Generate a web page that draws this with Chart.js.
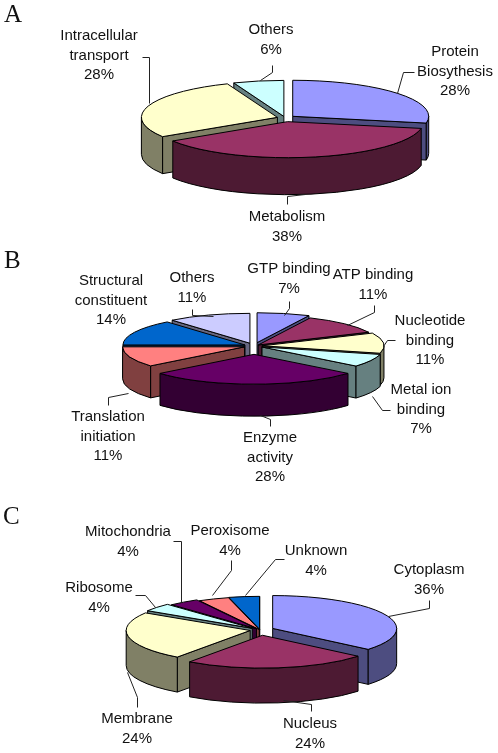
<!DOCTYPE html>
<html><head><meta charset="utf-8">
<script src="https://cdn.jsdelivr.net/npm/chart.js@4"></script>
<style>html,body{margin:0;padding:0;background:#fff;width:498px;height:753px;overflow:hidden}canvas{position:absolute;left:0;display:block}</style>
</head><body>
<canvas id="a" width="498" height="250" style="top:0"></canvas>
<canvas id="b" width="498" height="250" style="top:250px"></canvas>
<canvas id="c" width="498" height="253" style="top:500px"></canvas>
<script>
// ---- data ----
const categoriesA = ['Protein\nBiosythesis','Metabolism','Intracellular\ntransport','Others'];
const valuesA = [28,38,28,6];
const colorsA = ['#9999FF','#993366','#FFFFCC','#CCFFFF'];

const categoriesB = ['GTP binding','ATP binding','Nucleotide\nbinding','Metal ion\nbinding','Enzyme\nactivity','Translation\ninitiation','Structural\nconstituent','Others'];
const valuesB = [7,11,11,7,28,11,14,11];
const colorsB = ['#9999FF','#993366','#FFFFCC','#CCFFFF','#660066','#FF8080','#0066CC','#CCCCFF'];

const categoriesC = ['Cytoplasm','Nucleus','Membrane','Ribosome','Mitochondria','Peroxisome','Unknown'];
const valuesC = [36,24,24,4,4,4,4];
const colorsC = ['#9999FF','#993366','#FFFFCC','#CCFFFF','#660066','#FF8080','#0066CC'];

// ---- layout (not data) ----
const explodeA = [10,14,8,6];
const explodeB = [14,6,8,9,34,10,10,12];
const explodeC = [14,20,10,10,6,2,3];
const labelPosA = [[455,52],[287,217],[99,36],[271,30]];
const labelPosB = [[289,19],[373,25],[430,71],[421,140],[270,188],[108,167],[111,31],[192,28]];
const labelPosC = [[429,70],[310,224],[137,219],[99,88],[128,32],[230,31],[316,51]];
const leadersA = [[[414,72],[403,72],[397,93]],[[287,204],[287,196],[305,194]],[[142,57],[149,57],[149,103]],[[272,65],[272,72],[260,80]]];
const leadersB = [[[289,51],[289,58],[284,65]],[[374,55],[374,62],[347,75]],[[395,90],[387,90],[383,96]],[[390,160],[382,160],[372,146]],[[270,176],[270,169],[260,165]],[[108,155],[108,147],[128,143]],null,[[192,59],[192,65],[213,66]]];
const leadersC = [[[429,100],[429,108],[388,116]],[[311,211],[311,204],[283,200]],[[137,207],[137,197],[127,172]],[[135,95],[145,95],[155,107]],[[173,41],[181,41],[181,102]],[[231,60],[231,70],[212,95]],[[284,59],[275,59],[245,95]]];

const LABEL_FONT = '15px "Liberation Sans", Arial, sans-serif';
const LINE_H = 19.5;

function halfTone(hex){
  const n = parseInt(hex.slice(1),16);
  return 'rgb('+[(n>>16)&255,(n>>8)&255,n&255].map(v=>Math.round(v/2)).join(',')+')';
}

const pie3d = {
  id:'pie3d',
  beforeDatasetDraw(){ return false; },
  afterDatasetsDraw(chart,args,o){
    const ctx = chart.ctx, area = chart.chartArea;
    const meta = chart.getDatasetMeta(0);
    const arcs = meta.data.map((arc,i)=>({arc,i})).sort((p,q)=>{
      const m=e=>Math.sin((e.arc.startAngle+e.arc.endAngle)/2);
      return m(p)-m(q);
    });
    const k=o.squash, d=o.depth;
    for(const {arc,i} of arcs){
      const off=o.explode[i], mid=(arc.startAngle+arc.endAngle)/2;
      const dx=Math.cos(mid)*off, dy=Math.sin(mid)*off*k;
      const x=arc.x+dx, y=arc.y+dy, r=arc.outerRadius;
      const a0=arc.startAngle, a1=arc.endAngle;
      const px=a=>x+Math.cos(a)*r, py=a=>y+Math.sin(a)*r*k;
      ctx.save();
      ctx.lineWidth=1; ctx.strokeStyle='#000'; ctx.lineJoin='round';
      ctx.fillStyle=halfTone(o.colors[i]);
      const wall=a=>{
        ctx.beginPath(); ctx.moveTo(x,y); ctx.lineTo(px(a),py(a));
        ctx.lineTo(px(a),py(a)+d); ctx.lineTo(x,y+d); ctx.closePath();
        ctx.fill(); ctx.stroke();
      };
      if(Math.cos(a0)<0) wall(a0);
      if(Math.cos(a1)>0) wall(a1);
      const s=Math.max(a0,0), e=Math.min(a1,Math.PI);
      if(s<e){
        ctx.beginPath();
        ctx.ellipse(x,y,r,r*k,0,s,e);
        ctx.ellipse(x,y+d,r,r*k,0,e,s,true);
        ctx.closePath(); ctx.fill(); ctx.stroke();
      }
      // top face: the library's own arc element, exploded and squashed into perspective
      ctx.save();
      ctx.translate(x,y); ctx.scale(1,k); ctx.translate(-arc.x,-arc.y);
      arc.draw(ctx,area);
      ctx.restore();
      ctx.beginPath(); ctx.moveTo(x,y);
      ctx.ellipse(x,y,r,r*k,0,a0,a1);
      ctx.closePath(); ctx.stroke();
      ctx.restore();
    }
  },
  afterDraw(chart,args,o){
    const ctx=chart.ctx;
    ctx.save();
    ctx.strokeStyle='#222'; ctx.lineWidth=1;
    o.leaders.forEach(l=>{
      if(!l) return;
      ctx.beginPath();
      l.forEach((p,j)=> j?ctx.lineTo(p[0]+.5,p[1]+.5):ctx.moveTo(p[0]+.5,p[1]+.5));
      ctx.stroke();
    });
    ctx.fillStyle='#111'; ctx.textAlign='center'; ctx.textBaseline='middle'; ctx.font=LABEL_FONT;
    chart.data.labels.forEach((lab,i)=>{
      const lines=lab.split('\n').concat(chart.data.datasets[0].data[i]+'%');
      lines.forEach((t,j)=>ctx.fillText(t,o.pos[i][0],o.pos[i][1]+j*LINE_H));
    });
    ctx.font='25px "Liberation Serif", serif'; ctx.textAlign='left';
    ctx.fillText(o.letter,o.letterX,o.letterY);
    ctx.restore();
  }
};

function makePie(id,cats,vals,cols,explode,pos,leaders,letter,letterX,letterY,cx,cy,radius,squash,depth){
  const el=document.getElementById(id), W=el.width, H=el.height;
  const padX=2*cx-W, padY=2*cy-H;
  new Chart(el,{
    type:'pie',
    data:{labels:cats,datasets:[{data:vals,backgroundColor:cols,borderWidth:0,clip:false}]},
    options:{
      responsive:false,animation:false,radius:radius,
      layout:{padding:{left:Math.max(padX,0),right:Math.max(-padX,0),top:Math.max(padY,0),bottom:Math.max(-padY,0)}},
      events:[],
      plugins:{legend:{display:false},tooltip:{enabled:false},
        pie3d:{squash,depth,colors:cols,explode,pos,leaders,letter,letterX,letterY}}
    },
    plugins:[pie3d]
  });
}
makePie('a',categoriesA,valuesA,colorsA,explodeA,labelPosA,leadersA,'A',4,15,285,118,136,.265,37);
makePie('b',categoriesB,valuesB,colorsB,explodeB,labelPosB,leadersB,'B',4,11,254,96,122,.245,32);
makePie('c',categoriesC,valuesC,colorsC,explodeC,labelPosC,leadersC,'C',3,17,260,130,124,.265,35);
</script>
</body></html>
